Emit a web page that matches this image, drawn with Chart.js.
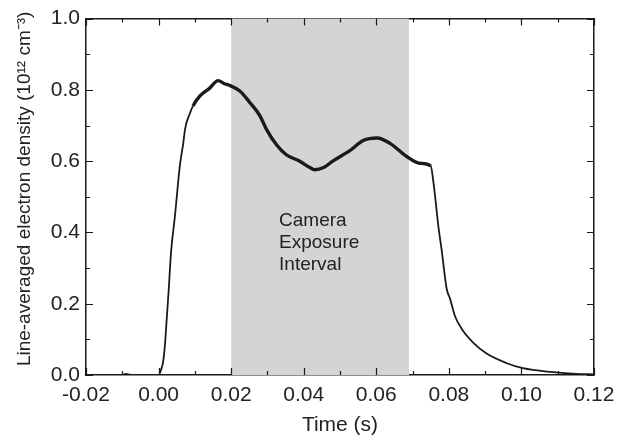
<!DOCTYPE html>
<html>
<head>
<meta charset="utf-8">
<script src="https://cdn.jsdelivr.net/npm/chart.js@4/dist/chart.umd.min.js"></script>
<style>
  html, body { margin: 0; padding: 0; background: #fff; }
  #wrap { position: relative; width: 625px; height: 439px; }
</style>
</head>
<body>
<div id="wrap"><canvas id="chart"></canvas></div>
<script>
// time (s) and line-averaged density (1e12 cm^-3)
const times = [
  -0.010, -0.009, -0.008, -0.007, 0.000, 0.0007, 0.0013, 0.0018, 0.0022, 0.0028,
  0.0034, 0.0045, 0.0059, 0.0068, 0.0073, 0.0087, 0.0095, 0.0114, 0.0141, 0.0164,
  0.0180, 0.0197, 0.0224, 0.0252, 0.0279, 0.0297, 0.0325, 0.0352, 0.0389, 0.0417,
  0.0430, 0.0455, 0.0480, 0.0528, 0.0564, 0.0602, 0.0638, 0.0684, 0.0720, 0.0750,
  0.0757, 0.0767, 0.0770, 0.0780, 0.0794, 0.0803, 0.0817, 0.0839, 0.0867, 0.0904,
  0.0960, 0.1004, 0.1087, 0.1150, 0.1200
];
const density = [
  0.000, 0.003, 0.001, 0.000, 0.000, 0.015, 0.040, 0.090, 0.150, 0.240,
  0.340, 0.445, 0.590, 0.650, 0.690, 0.736, 0.755, 0.783, 0.805, 0.826,
  0.818, 0.812, 0.797, 0.764, 0.728, 0.690, 0.646, 0.618, 0.600, 0.582,
  0.576, 0.582, 0.600, 0.630, 0.658, 0.665, 0.650, 0.613, 0.594, 0.587,
  0.545, 0.455, 0.426, 0.352, 0.242, 0.215, 0.165, 0.124, 0.091, 0.060,
  0.033, 0.019, 0.008, 0.003, 0.002
];
const exposureInterval = [0.02, 0.069];
const bandLabel = ["Camera", "Exposure", "Interval"];
const xTicks = [-0.02, 0.00, 0.02, 0.04, 0.06, 0.08, 0.10, 0.12];
const yTicks = [0.0, 0.2, 0.4, 0.6, 0.8, 1.0];

const FONT = "'Liberation Sans', Arial, Helvetica, sans-serif";
const INK = "#1a1a1a";

const points = times.map((t, i) => ({ x: t, y: density[i] }));

// grey exposure band + label
const bandPlugin = {
  id: "band",
  beforeDatasetsDraw(chart) {
    const { ctx, chartArea, scales } = chart;
    const x0 = scales.x.getPixelForValue(exposureInterval[0]);
    const x1 = scales.x.getPixelForValue(exposureInterval[1]);
    ctx.save();
    ctx.fillStyle = "rgb(211,212,214)";
    ctx.fillRect(x0, chartArea.top, x1 - x0, chartArea.bottom - chartArea.top);
    ctx.fillStyle = "#222";
    ctx.font = "19px " + FONT;
    ctx.textBaseline = "alphabetic";
    const lx = scales.x.getPixelForValue(0.0332);
    bandLabel.forEach((s, i) => ctx.fillText(s, lx, 226 + i * 22));
    ctx.restore();
  }
};

// inward tick marks on all four sides
const tickPlugin = {
  id: "inTicks",
  afterDraw(chart) {
    const { ctx, chartArea: a, scales } = chart;
    ctx.save();
    ctx.strokeStyle = INK;
    ctx.lineWidth = 1.2;
    ctx.beginPath();
    for (let k = 0; k <= 14; k++) {
      const v = -0.02 + k * 0.01;
      const px = Math.round(scales.x.getPixelForValue(v)) + 0.5;
      const len = k % 2 === 0 ? 7 : 4;
      ctx.moveTo(px, a.bottom); ctx.lineTo(px, a.bottom - len);
      ctx.moveTo(px, a.top); ctx.lineTo(px, a.top + len);
    }
    for (let k = 0; k <= 10; k++) {
      const v = k * 0.1;
      const py = Math.round(scales.y.getPixelForValue(v)) + 0.5;
      const len = k % 2 === 0 ? 7 : 4;
      ctx.moveTo(a.left, py); ctx.lineTo(a.left + len, py);
      ctx.moveTo(a.right, py); ctx.lineTo(a.right - len, py);
    }
    ctx.stroke();
    ctx.restore();
  }
};

const inNoisy = (ctx) => {
  const t0 = ctx.p0.parsed.x, t1 = ctx.p1.parsed.x;
  return t0 >= 0.0095 && t1 <= 0.0752 ? 3.4 : 1.8;
};

new Chart(document.getElementById("chart"), {
  type: "line",
  data: {
    datasets: [{
      label: "Line-averaged electron density",
      data: points,
      borderColor: INK,
      borderWidth: 2,
      pointRadius: 0,
      cubicInterpolationMode: "monotone",
      segment: { borderWidth: inNoisy }
    }]
  },
  options: {
    responsive: true,
    maintainAspectRatio: false,
    animation: false,
    layout: { padding: { top: 11, right: 31, left: 0, bottom: 0 } },
    plugins: { legend: { display: false }, tooltip: { enabled: false } },
    scales: {
      x: {
        type: "linear",
        min: -0.02, max: 0.12,
        afterFit: (s) => { s.height = 64; },
        afterBuildTicks: (s) => { s.ticks = xTicks.map(v => ({ value: v })); },
        ticks: {
          color: "#222", padding: 8,
          font: { family: FONT, size: 21 },
          callback: (v) => Number(v).toFixed(2),
          maxRotation: 0, autoSkip: false
        },
        grid: { display: false, drawTicks: false },
        border: { display: true, color: INK, width: 1.5 },
        title: {
          display: true, text: "Time (s)", color: "#222",
          font: { family: FONT, size: 21 }, padding: { top: 0, bottom: 1 }
        }
      },
      y: {
        type: "linear",
        min: 0, max: 1,
        afterFit: (s) => { s.width = 86; },
        afterBuildTicks: (s) => { s.ticks = yTicks.map(v => ({ value: v })); },
        ticks: {
          color: "#222", padding: 6,
          font: { family: FONT, size: 21 },
          callback: (v) => Number(v).toFixed(1)
        },
        grid: { display: false, drawTicks: false },
        border: { display: true, color: INK, width: 1.5 },
        title: {
          display: true, text: "   Line-averaged electron density (10¹² cm⁻³)", color: "#222",
          font: { family: FONT, size: 19 }, padding: { top: 13, bottom: 0 }
        }
      },
      x2: {
        type: "linear", position: "top", min: -0.02, max: 0.12,
        afterFit: (s) => { s.height = 0; },
        ticks: { display: false },
        grid: { display: false, drawTicks: false },
        border: { display: true, color: INK, width: 1.5 }
      },
      y2: {
        type: "linear", position: "right", min: 0, max: 1,
        afterFit: (s) => { s.width = 0; },
        ticks: { display: false },
        grid: { display: false, drawTicks: false },
        border: { display: true, color: INK, width: 1.5 }
      }
    }
  },
  plugins: [bandPlugin, tickPlugin]
});
</script>
</body>
</html>
